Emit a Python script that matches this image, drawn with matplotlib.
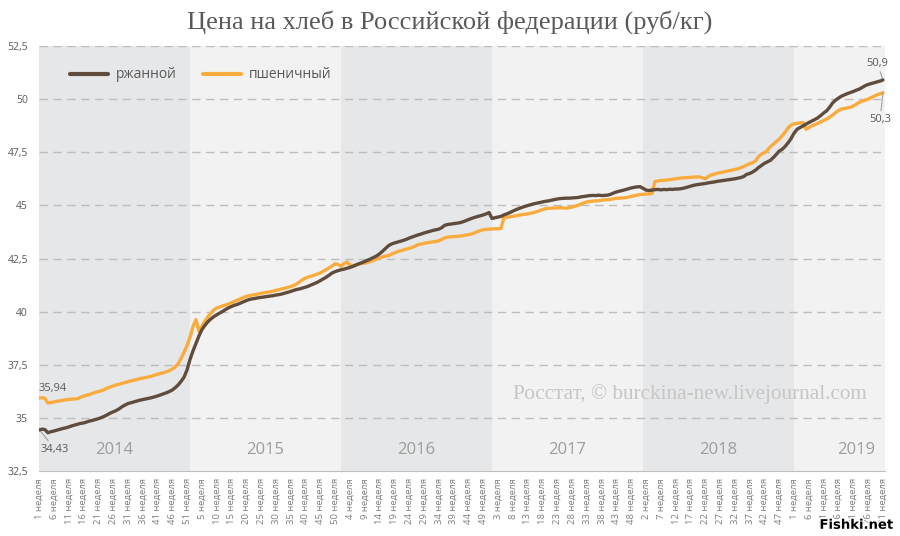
import numpy as np
import matplotlib
matplotlib.use("Agg")
import matplotlib.pyplot as plt
import matplotlib.patheffects as pe

# weekly bread prices, rub/kg
years = ['2014', '2015', '2016', '2017', '2018', '2019']
weeks_per_year = [51, 51, 51, 51, 51, 31]

rye = [
    # 2014
    34.43, 34.47, 34.45, 34.30, 34.35, 34.38, 34.42, 34.46, 34.50, 34.53,
    34.57, 34.62, 34.66, 34.70, 34.74, 34.76, 34.80, 34.85, 34.88, 34.92,
    34.96, 35.01, 35.07, 35.14, 35.22, 35.28, 35.34, 35.42, 35.52, 35.60,
    35.67, 35.71, 35.75, 35.79, 35.83, 35.86, 35.89, 35.92, 35.95, 35.99,
    36.03, 36.08, 36.13, 36.18, 36.24, 36.31, 36.42, 36.55, 36.72, 36.92,
    37.26,
    # 2015
    37.75, 38.15, 38.50, 38.85, 39.15, 39.35, 39.52, 39.65, 39.76, 39.85,
    39.93, 40.01, 40.10, 40.18, 40.24, 40.30, 40.34, 40.40, 40.46, 40.52,
    40.57, 40.60, 40.62, 40.65, 40.67, 40.69, 40.71, 40.73, 40.75, 40.78,
    40.80, 40.83, 40.87, 40.91, 40.95, 41.00, 41.04, 41.07, 41.11, 41.15,
    41.20, 41.26, 41.32, 41.38, 41.46, 41.54, 41.62, 41.72, 41.82, 41.88,
    41.93,
    # 2016
    41.97, 42.00, 42.04, 42.08, 42.13, 42.19, 42.25, 42.30, 42.36, 42.42,
    42.48, 42.55, 42.62, 42.72, 42.84, 42.97, 43.10, 43.18, 43.23, 43.27,
    43.31, 43.35, 43.40, 43.46, 43.51, 43.56, 43.61, 43.65, 43.70, 43.74,
    43.78, 43.82, 43.85, 43.88, 43.95, 44.06, 44.10, 44.12, 44.14, 44.16,
    44.18, 44.22, 44.27, 44.33, 44.38, 44.43, 44.47, 44.51, 44.55, 44.60,
    44.66,
    # 2017
    44.38, 44.42, 44.45, 44.48, 44.55, 44.60, 44.66, 44.73, 44.79, 44.85,
    44.90, 44.95, 44.99, 45.03, 45.07, 45.10, 45.13, 45.16, 45.19, 45.21,
    45.24, 45.27, 45.30, 45.32, 45.33, 45.34, 45.34, 45.35, 45.36, 45.37,
    45.40, 45.42, 45.44, 45.46, 45.47, 45.46, 45.48, 45.46, 45.47, 45.48,
    45.52, 45.58, 45.63, 45.67, 45.70, 45.74, 45.78, 45.82, 45.85, 45.87,
    45.88,
    # 2018
    45.80, 45.72, 45.70, 45.72, 45.74, 45.75, 45.73, 45.75, 45.74, 45.76,
    45.75, 45.77, 45.77, 45.79, 45.82, 45.86, 45.90, 45.94, 45.97, 45.99,
    46.01, 46.03, 46.06, 46.08, 46.10, 46.13, 46.15, 46.17, 46.19, 46.21,
    46.23, 46.25, 46.28, 46.31, 46.36, 46.46, 46.50, 46.57, 46.66, 46.78,
    46.88, 46.98, 47.05, 47.12, 47.25, 47.40, 47.56, 47.64, 47.78, 47.95,
    48.15,
    # 2019
    48.40, 48.58, 48.66, 48.74, 48.82, 48.90, 48.97, 49.04, 49.12, 49.23,
    49.35, 49.45, 49.62, 49.82, 49.95, 50.05, 50.14, 50.20, 50.26, 50.31,
    50.36, 50.42, 50.47, 50.55, 50.63, 50.69, 50.73, 50.77, 50.81, 50.85,
    50.90,
]

wheat = [
    # 2014
    35.94, 35.95, 35.92, 35.70, 35.72, 35.75, 35.78, 35.80, 35.83, 35.85,
    35.87, 35.88, 35.89, 35.90, 35.97, 36.02, 36.06, 36.10, 36.15, 36.20,
    36.24, 36.27, 36.33, 36.40, 36.45, 36.50, 36.55, 36.58, 36.62, 36.66,
    36.70, 36.74, 36.77, 36.80, 36.84, 36.87, 36.90, 36.93, 36.96, 37.01,
    37.05, 37.09, 37.12, 37.17, 37.22, 37.30, 37.40, 37.55, 37.80, 38.10,
    38.40,
    # 2015
    38.80, 39.30, 39.62, 39.08, 39.30, 39.55, 39.75, 39.92, 40.08, 40.17,
    40.22, 40.27, 40.31, 40.36, 40.42, 40.48, 40.54, 40.60, 40.66, 40.72,
    40.75, 40.78, 40.80, 40.83, 40.86, 40.89, 40.91, 40.93, 40.96, 41.00,
    41.03, 41.07, 41.10, 41.14, 41.18, 41.23, 41.30, 41.40, 41.50, 41.58,
    41.63, 41.67, 41.72, 41.77, 41.82, 41.90, 41.98, 42.06, 42.15, 42.25,
    42.22,
    # 2016
    42.14, 42.26, 42.33, 42.20, 42.15, 42.20, 42.24, 42.27, 42.28, 42.32,
    42.36, 42.41, 42.47, 42.53, 42.57, 42.61, 42.64, 42.70, 42.76, 42.82,
    42.86, 42.90, 42.94, 42.98, 43.02, 43.08, 43.15, 43.18, 43.21, 43.24,
    43.26, 43.28, 43.30, 43.33, 43.40, 43.47, 43.50, 43.52, 43.53, 43.54,
    43.55, 43.57, 43.60, 43.62, 43.65, 43.70, 43.76, 43.81, 43.85, 43.87,
    43.88,
    # 2017
    43.89, 43.90, 43.90, 43.91, 44.42, 44.44, 44.46, 44.48, 44.51, 44.54,
    44.56, 44.58, 44.60, 44.63, 44.66, 44.70, 44.75, 44.80, 44.84, 44.86,
    44.87, 44.88, 44.88, 44.89, 44.88, 44.87, 44.89, 44.92, 44.96, 45.00,
    45.06, 45.12, 45.16, 45.18, 45.20, 45.21, 45.22, 45.24, 45.26, 45.27,
    45.28, 45.31, 45.33, 45.34, 45.35, 45.36, 45.39, 45.42, 45.45, 45.48,
    45.51,
    # 2018
    45.52, 45.53, 45.54, 45.56, 46.12, 46.15, 46.17, 46.18, 46.19, 46.21,
    46.23, 46.25, 46.27, 46.29, 46.30, 46.31, 46.32, 46.33, 46.34, 46.34,
    46.30, 46.25, 46.36, 46.43, 46.47, 46.51, 46.54, 46.57, 46.60, 46.63,
    46.66, 46.69, 46.72, 46.77, 46.83, 46.90, 46.96, 47.01, 47.09, 47.30,
    47.42, 47.48, 47.60, 47.76, 47.88, 48.00, 48.12, 48.28, 48.45, 48.65,
    48.78,
    # 2019
    48.84, 48.86, 48.88, 48.90, 48.58, 48.66, 48.74, 48.80, 48.86, 48.93,
    49.00, 49.06, 49.15, 49.25, 49.36, 49.47, 49.53, 49.56, 49.59, 49.61,
    49.68, 49.76, 49.85, 49.90, 49.95, 50.00, 50.07, 50.14, 50.20, 50.25,
    50.30,
]

yticks = [32.5, 35, 37.5, 40, 42.5, 45, 47.5, 50, 52.5]

RYE_C = '#5f4c3c'
WHEAT_C = '#f9ac3d'
TXT = '#595959'

fig = plt.figure(figsize=(9, 5.36), dpi=100)
ax = fig.add_axes([39 / 900, 1 - 471 / 536, 846 / 900, 425 / 536])

x = np.arange(len(rye))
xmax = len(rye) - 1 + 0.7
ax.set_xlim(0, xmax)
ax.set_ylim(32.5, 52.5)

# year bands
start = 0
for k, (yr, n) in enumerate(zip(years, weeks_per_year)):
    end = min(start + n, xmax)
    ax.axvspan(start, end, color='#e6e7e9' if k % 2 == 0 else '#f2f2f2',
               lw=0, zorder=0)
    xc = (start + end) / 2 if k < len(years) - 1 else start + 21
    ax.text(xc, 33.5, yr, ha='center', va='center', fontsize=12,
            family='Open Sans', color='#9d9d9d', zorder=2)
    start += n

for v in yticks[1:]:
    ax.axhline(v, color='#bdbdbd', lw=1, ls=(0, (6, 4)), zorder=1)

ax.plot(x, rye, color=RYE_C, lw=2.4, zorder=4, label='ржанной',
        solid_capstyle='round')
ax.plot(x, wheat, color=WHEAT_C, lw=2.4, zorder=3, label='пшеничный',
        solid_capstyle='round')

# week tick labels
labels = []
for n in weeks_per_year:
    labels += [f'{w} неделя' for w in range(1, n + 1)]
ticks = list(range(0, len(rye), 5))
ax.set_xticks(ticks)
ax.set_xticklabels([labels[t] for t in ticks], rotation=90, fontsize=6.8,
                   family='Open Sans', color='#7f7f7f')
ax.set_yticks(yticks)
ax.set_yticklabels([f'{v:g}'.replace('.', ',') for v in yticks],
                   fontsize=7.5, family='Open Sans', color=TXT)
ax.tick_params(length=0)
ax.tick_params(axis='x', pad=5)
ax.tick_params(axis='y', pad=8)
for s in ['top', 'right', 'left']:
    ax.spines[s].set_visible(False)
ax.spines['bottom'].set_color('#bfbfbf')

leg = ax.legend(loc='center left', bbox_to_anchor=(0.037, 0.932), ncol=2,
                frameon=False, borderpad=0, borderaxespad=0,
                handlelength=2.7, handletextpad=0.6, columnspacing=1.9,
                prop={'family': 'Open Sans', 'size': 10})
for t in leg.get_texts():
    t.set_color(TXT)
for h in leg.get_lines():
    h.set_linewidth(3)
    h.set_solid_capstyle('round')

# end-point labels
ann = dict(fontsize=8, family='Open Sans', color=TXT)
ax.annotate(f'{wheat[0]:.2f}'.replace('.', ','), (0, wheat[0]),
            xytext=(0, 3), textcoords='offset points', ha='left', va='bottom', **ann)
ax.annotate(f'{rye[0]:.2f}'.replace('.', ','), (0.5, rye[0] - 0.05),
            xytext=(0, -9), textcoords='offset points', ha='left', va='top',
            arrowprops=dict(arrowstyle='-', color='#a0a0a0', lw=0.8,
                            shrinkA=0, shrinkB=0), **ann)
ax.annotate(f'{rye[-1]:g}'.replace('.', ','), (x[-1], rye[-1]),
            xytext=(-4, 8), textcoords='offset points', ha='center', va='bottom',
            annotation_clip=False,
            arrowprops=dict(arrowstyle='-', color='#a0a0a0', lw=0.8,
                            shrinkA=0, shrinkB=0), **ann)
ax.annotate(f'{wheat[-1]:g}'.replace('.', ','), (x[-1], wheat[-1]),
            xytext=(-2, -15), textcoords='offset points', ha='center', va='top',
            annotation_clip=False,
            arrowprops=dict(arrowstyle='-', color='#a0a0a0', lw=0.8,
                            shrinkA=0, shrinkB=0), **ann)

ax.text(0.978, 0.182, 'Росстат, © burckina-new.livejournal.com',
        transform=ax.transAxes, ha='right', va='center', fontsize=15.3,
        family='Liberation Serif', color='#c6c6c6', zorder=2)

fig.text(0.5, 1 - 22 / 536, 'Цена на хлеб в Российской федерации (руб/кг)',
         ha='center', va='center', fontsize=19, family='Liberation Serif',
         color=TXT)

fig.text(0.993, 0.02, 'Fishki.net', ha='right', va='center', fontsize=9.5,
         family='DejaVu Sans', weight='bold', color='black',
         path_effects=[pe.withStroke(linewidth=2, foreground='white')])

fig.savefig('out.png', dpi=100, facecolor='white')
